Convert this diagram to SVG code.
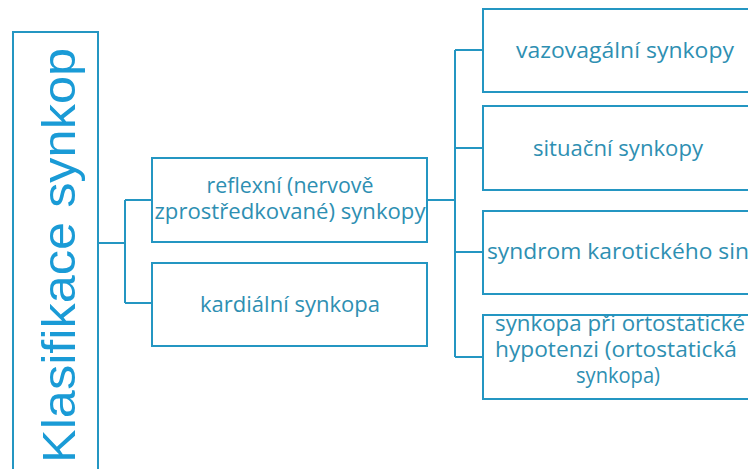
<svg xmlns="http://www.w3.org/2000/svg" width="748" height="469" viewBox="0 0 748 469">
<style>
.box{fill:#fff;stroke:#2496c2;stroke-width:2}
.conn{fill:none;stroke:#2496c2;stroke-width:2}
.t{font-family:"Open Sans","Liberation Sans",sans-serif;font-size:22px;fill:#2e8fb2;text-anchor:middle}
.root{font-family:"Liberation Sans","Open Sans",sans-serif;font-size:46px;fill:#1a9bd6;text-anchor:middle}
</style>
<rect width="748" height="469" fill="#fff"/>
<g id="connectors">
<path class="conn" d="M98 243H125M125 200V303M125 200H153M125 303H153"/>
<path class="conn" d="M427 200H455M455 50V357M455 50H483M455 148H483M455 252H483M455 357H483"/>
</g>
<g id="root">
<rect class="box" x="13" y="32" width="85" height="450"/>
<text class="root" transform="translate(75,255.5) rotate(-90)" textLength="415" lengthAdjust="spacingAndGlyphs">Klasifikace synkop</text>
</g>
<g id="reflexni">
<rect class="box" x="152" y="158" width="275" height="84"/>
<text class="t" x="290" y="193" textLength="167" lengthAdjust="spacingAndGlyphs">reflexní (nervově</text>
<text class="t" x="290" y="219" textLength="271" lengthAdjust="spacingAndGlyphs">zprostředkované) synkopy</text>
</g>
<g id="kardialni">
<rect class="box" x="152" y="263" width="275" height="83"/>
<text class="t" x="290" y="312" textLength="180" lengthAdjust="spacingAndGlyphs">kardiální synkopa</text>
</g>
<g id="vazovagalni">
<rect class="box" x="483" y="9" width="282" height="83"/>
<text class="t" x="625" y="58" textLength="218" lengthAdjust="spacingAndGlyphs">vazovagální synkopy</text>
</g>
<g id="situacni">
<rect class="box" x="483" y="106" width="282" height="84"/>
<text class="t" x="618" y="156" textLength="170" lengthAdjust="spacingAndGlyphs">situační synkopy</text>
</g>
<g id="karoticky">
<rect class="box" x="483" y="211" width="282" height="83"/>
<text class="t" x="625" y="259" textLength="276" lengthAdjust="spacingAndGlyphs">syndrom karotického sinu</text>
</g>
<g id="ortostaticka">
<rect class="box" x="483" y="315" width="282" height="84"/>
<text class="t" x="620" y="331" textLength="250" lengthAdjust="spacingAndGlyphs">synkopa při ortostatické</text>
<text class="t" x="616" y="357" textLength="242" lengthAdjust="spacingAndGlyphs">hypotenzi (ortostatická</text>
<text class="t" x="618" y="383" textLength="84" lengthAdjust="spacingAndGlyphs">synkopa)</text>
</g>
</svg>
